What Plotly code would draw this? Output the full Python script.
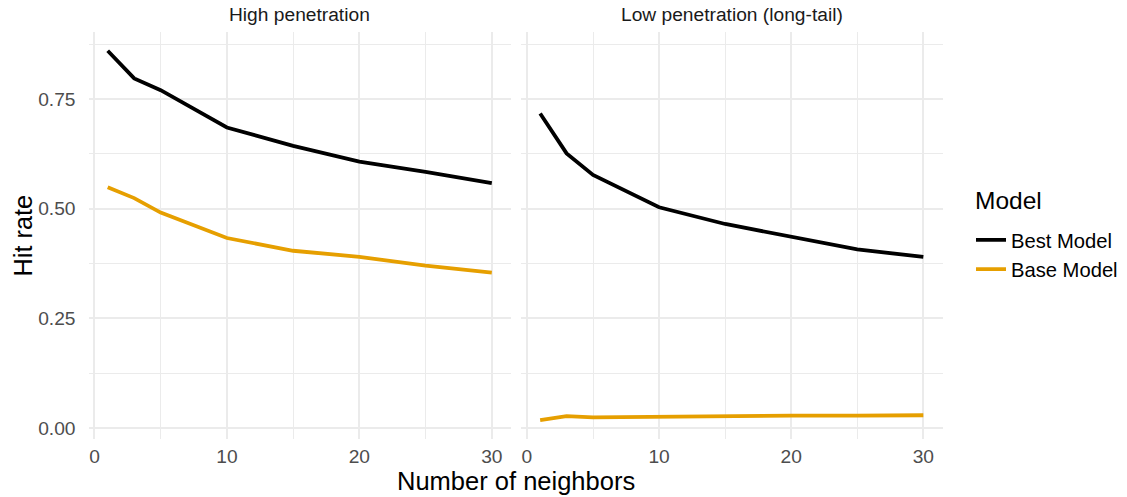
import plotly.graph_objects as go

neighbors = [1, 3, 5, 10, 15, 20, 25, 30]
high_best = [0.860, 0.797, 0.770, 0.685, 0.643, 0.607, 0.584, 0.558]
high_base = [0.549, 0.524, 0.491, 0.433, 0.404, 0.390, 0.370, 0.354]
low_best = [0.717, 0.626, 0.577, 0.503, 0.465, 0.435, 0.407, 0.390]
low_base = [0.018, 0.027, 0.024, 0.026, 0.027, 0.028, 0.028, 0.029]
facets = ["High penetration", "Low penetration (long-tail)"]
models = ["Best Model", "Base Model"]
legend_title = "Model"
x_title = "Number of neighbors"
y_title = "Hit rate"
colors = {"Best Model": "#000000", "Base Model": "#E69F00"}

W, H = 1127, 497
FONT = "Liberation Sans, Arial, Helvetica, sans-serif"
GRID = "#EBEBEB"

def px_x(p):
    return p / W

def px_y(p):
    return 1 - p / H

dom_left = [px_x(88.5), px_x(511)]
dom_right = [px_x(521), px_x(942.5)]
dom_y = [px_y(438.5), px_y(32.3)]

fig = go.Figure()
series = [
    ("x", "y", high_best, "Best Model", True),
    ("x", "y", high_base, "Base Model", True),
    ("x2", "y2", low_best, "Best Model", False),
    ("x2", "y2", low_base, "Base Model", False),
]
for xa, ya, vals, model, show in series:
    fig.add_trace(go.Scatter(
        x=neighbors, y=vals, mode="lines", name=model,
        legendgroup=model, showlegend=show,
        line=dict(color=colors[model], width=3.8),
        xaxis=xa, yaxis=ya,
    ))

xcommon = dict(
    range=[-0.45, 31.45], tick0=0, dtick=10, showgrid=True, gridcolor=GRID,
    gridwidth=1.6, zeroline=False, showline=False, ticks="",
    ticklabelstandoff=4,
    tickfont=dict(family=FONT, size=19.2, color="#4D4D4D"),
    minor=dict(tick0=0, dtick=5, showgrid=True, gridcolor=GRID, gridwidth=0.9),
    fixedrange=True,
)
ycommon = dict(
    range=[-0.024, 0.902], tick0=0, dtick=0.25, tickformat=".2f",
    showgrid=True, gridcolor=GRID, gridwidth=1.6, zeroline=False,
    showline=False, ticks="", domain=dom_y,
    tickfont=dict(family=FONT, size=19.2, color="#4D4D4D"),
    minor=dict(tick0=0, dtick=0.125, showgrid=True, gridcolor=GRID, gridwidth=0.9),
    fixedrange=True,
)

fig.update_layout(
    width=W, height=H,
    margin=dict(l=0, r=0, t=0, b=0),
    paper_bgcolor="white", plot_bgcolor="white",
    font=dict(family=FONT, color="#000000"),
    xaxis=dict(xcommon, domain=dom_left, anchor="y"),
    xaxis2=dict(xcommon, domain=dom_right, anchor="y2"),
    yaxis=dict(ycommon, anchor="x", ticklabelstandoff=12),
    yaxis2=dict(ycommon, anchor="x2", matches="y", showticklabels=False),
    legend=dict(
        font=dict(family=FONT, size=20.2, color="#000000"),
        x=px_x(971), xanchor="left", y=px_y(254.7), yanchor="middle",
        bgcolor="rgba(0,0,0,0)", itemwidth=30, tracegroupgap=0,
    ),
    annotations=[
        dict(text=facets[0], x=(dom_left[0] + dom_left[1]) / 2, y=dom_y[1],
             xref="paper", yref="paper", xanchor="center", yanchor="bottom",
             yshift=5, showarrow=False,
             font=dict(family=FONT, size=19.2, color="#1A1A1A")),
        dict(text=facets[1], x=(dom_right[0] + dom_right[1]) / 2, y=dom_y[1],
             xref="paper", yref="paper", xanchor="center", yanchor="bottom",
             yshift=5, showarrow=False,
             font=dict(family=FONT, size=19.2, color="#1A1A1A")),
        dict(text=x_title, x=(dom_left[0] + dom_right[1]) / 2,
             y=px_y(481), xref="paper", yref="paper", xanchor="center",
             yanchor="middle", showarrow=False,
             font=dict(family=FONT, size=25.5, color="#000000")),
        dict(text=y_title, x=px_x(23), y=(dom_y[0] + dom_y[1]) / 2,
             xref="paper", yref="paper", xanchor="center", yanchor="middle",
             textangle=-90, showarrow=False,
             font=dict(family=FONT, size=25.3, color="#000000")),
        dict(text=legend_title, x=px_x(973), y=px_y(200), xref="paper", yref="paper",
             xanchor="left", yanchor="middle", showarrow=False,
             font=dict(family=FONT, size=24.5, color="#000000")),
    ],
)

fig.write_html("out.html")
